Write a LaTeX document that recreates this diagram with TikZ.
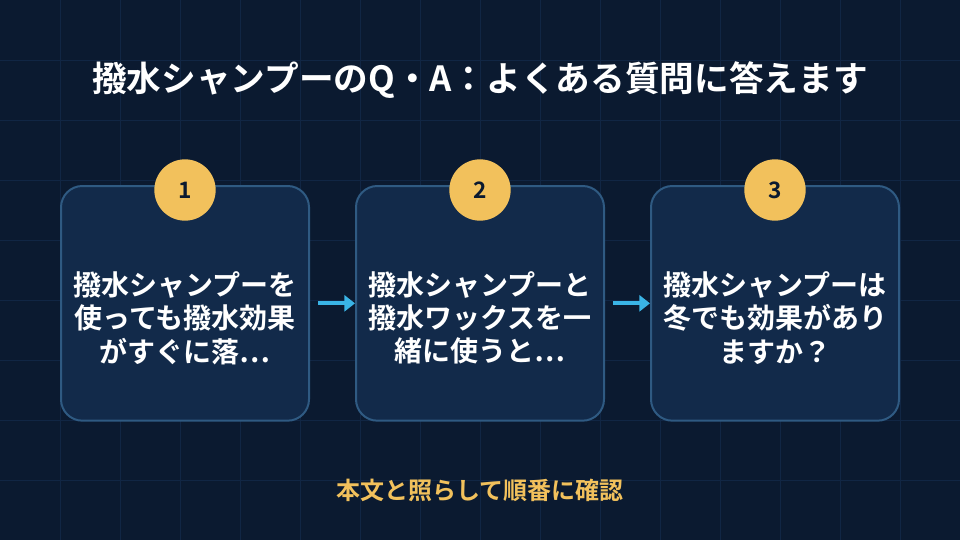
\documentclass[tikz,border=0pt]{standalone}
\usepackage{fontspec}
\setmainfont{Noto Sans CJK JP}
\newfontfamily\cjkbold{Noto Sans CJK JP Bold}
\usetikzlibrary{positioning, arrows.meta}
\definecolor{bgnavy}{HTML}{0B1A30}
\definecolor{gridnavy}{HTML}{112644}
\definecolor{cardfill}{HTML}{122A4A}
\definecolor{cardline}{HTML}{2F5A82}
\definecolor{stepgold}{HTML}{F2C15C}
\definecolor{flowblue}{HTML}{3AB4E6}
\tikzset{
  card/.style = {draw=cardline, line width=1.5pt, fill=cardfill, rounded corners=16pt,
                 minimum width=186pt, minimum height=176pt, anchor=north west},
  cardtext/.style = {text=white, font=\cjkbold\fontsize{21}{25}\selectfont, align=center},
  badge/.style = {circle, fill=stepgold, minimum size=46pt, inner sep=0pt,
                  text=bgnavy, font=\cjkbold\fontsize{17}{17}\selectfont},
  flow/.style = {draw=flowblue, line width=3pt, -{Triangle[length=8pt,width=12pt]}}
}
\begin{document}
\begin{tikzpicture}[x=0.75pt, y=-0.75pt]
  \fill[bgnavy] (0,0) rectangle (960,540);
  \useasboundingbox (0,0) rectangle (960,540);
  \foreach \gx in {60,120,...,900}{
    \draw[gridnavy, line width=0.75pt] (\gx,0) -- (\gx,540);
  }
  \foreach \gy in {60,120,...,480}{
    \draw[gridnavy, line width=0.75pt] (0,\gy) -- (960,\gy);
  }
  \node[text=white, font=\cjkbold\fontsize{26}{30}\selectfont] (title) at (480,80)
    {撥水シャンプーのQ・A：よくある質問に答えます};
  % steps
  \node[card] (C1) at (60,185) {};
  \node[card] (C2) at (355,185) {};
  \node[card] (C3) at (650,185) {};
  \node[cardtext] (T1) at (185,318) {撥水シャンプーを\\使っても撥水効果\\がすぐに落⋯};
  \node[cardtext] (T2) at (480,318) {撥水シャンプーと\\撥水ワックスを一\\緒に使うと⋯};
  \node[cardtext] (T3) at (775,318) {撥水シャンプーは\\冬でも効果があり\\ますか？};
  \node[badge] (B1) at (185,190) {1};
  \node[badge] (B2) at (480,190) {2};
  \node[badge] (B3) at (775,190) {3};
  \draw[flow] (C1.east) ++(6pt,0) coordinate (a1) -- (C2.west);
  \draw[flow] (C2.east) ++(6pt,0) coordinate (a2) -- (C3.west);
  \node[text=stepgold, font=\cjkbold\fontsize{18}{20}\selectfont] (foot) at (480,490)
    {本文と照らして順番に確認};
\end{tikzpicture}
\end{document}
